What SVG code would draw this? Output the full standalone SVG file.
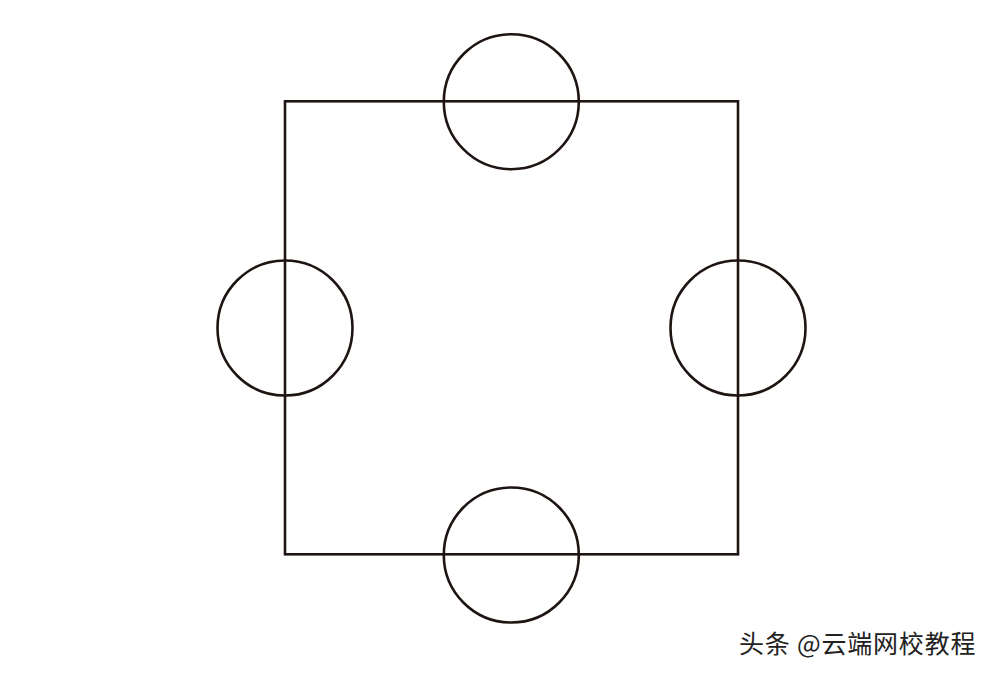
<svg xmlns="http://www.w3.org/2000/svg" width="994" height="675" viewBox="0 0 994 675">
<style>
.s{fill:none;stroke:#1e1512;stroke-width:2.6}
.t{font-family:"Noto Sans CJK SC","Noto Sans",sans-serif;font-size:25px;letter-spacing:0.8px;fill:#222}
</style>
<rect width="994" height="675" fill="#fff"/>
<g id="square"><rect class="s" x="285" y="101.3" width="453" height="453"/></g>
<g id="circle-top"><circle class="s" cx="511.3" cy="101.7" r="67.5"/></g>
<g id="circle-left"><circle class="s" cx="285" cy="328" r="67.5"/></g>
<g id="circle-right"><circle class="s" cx="738" cy="328" r="67.5"/></g>
<g id="circle-bottom"><circle class="s" cx="511.3" cy="555" r="67.5"/></g>
<g id="connectors"></g>
<text class="t" x="739" y="653">头条 @云端网校教程</text>
</svg>
